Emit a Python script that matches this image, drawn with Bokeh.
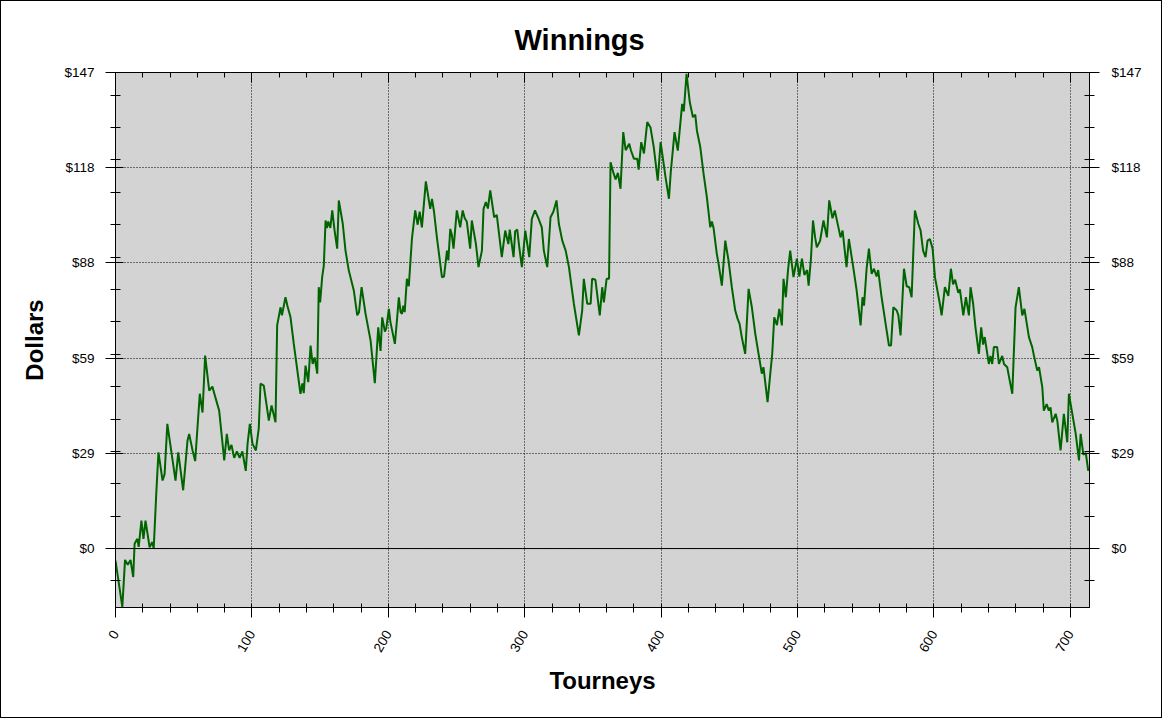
from math import pi

from bokeh.embed import file_html
from bokeh.models import FixedTicker, LinearAxis, Range1d, Span
from bokeh.plotting import figure
from bokeh.resources import INLINE

# Cumulative winnings
tourneys = [0, 5, 7, 9, 11, 13, 14, 16, 17, 19, 20.5, 22, 25, 27, 28, 30, 31.5, 34.5, 36, 38,
            44, 46, 49.6, 52.8, 54, 56.5, 58.4, 61.8, 63.8, 65.7, 68.7, 71, 73, 76, 79.7, 81.6,
            83.3, 85, 87, 89, 91, 93, 95.5, 96.8, 98.5, 100.4, 102.9, 105, 106.3, 108.7, 112.4,
            114.4, 117.3, 118.5, 121, 122, 124.6, 126, 128.3, 130.7, 135.6, 137, 138, 139.3,
            141.3, 143, 144.5, 146, 147.9, 149, 150, 151.5, 152.7, 154, 155, 156, 157.5, 158.9,
            160.6, 162.5, 163.7, 166.6, 168.6, 171, 174.7, 177.2, 178.5, 180.4, 183.3, 187,
            190.1, 192.6, 194.3, 195.5, 197.5, 198.5, 200.4, 201.5, 204.8, 206.5, 207.7, 209,
            210, 211, 212, 213.6, 215, 217.3, 219.7, 221.5, 223, 224.6, 227.5, 230.7, 232, 233.5,
            235.6, 239.3, 240.8, 243, 244, 245.4, 246.5, 247.8, 250.2, 252.7, 254.5, 256, 257.5,
            260, 261.2, 264.2, 266.1, 268.6, 269.8, 271.5, 273, 274.7, 277.6, 279.5, 283.2,
            285.7, 288, 289, 291.8, 293, 294.5, 296, 297.9, 300.4, 303.3, 305.2, 307.5, 310,
            312.5, 314, 316.5, 318.9, 321, 323.3, 325, 327.5, 330, 332.4, 336, 339.7, 342.1,
            343.3, 345.8, 348.3, 349.4, 351.8, 355, 356.8, 358, 360, 361.8, 362.9, 365, 366.6,
            368.3, 370.2, 372.2, 374, 376.6, 377.8, 380, 382.5, 383.5, 385.4, 387.4, 389.8,
            392.2, 394.6, 397.5, 399.6, 403.2, 405.7, 407, 409.8, 412.2, 415.4, 416.6, 418.6,
            421, 423.3, 425, 426.2, 428.7, 431.1, 433.5, 436, 437.2, 438.4, 440.8, 442.1, 444.5,
            447, 449.4, 451.8, 454.3, 456, 457.5, 459.1, 461.6, 464.1, 466.5, 469, 471.4, 473.8,
            475, 478, 480, 481.4, 482.9, 484.9, 486.6, 488.5, 489.7, 491.4, 493, 494.6, 497,
            499.5, 501.3, 503.2, 505, 507, 508.1, 509.8, 511.3, 512.9, 514.1, 516.5, 519, 521.5,
            523.2, 525.6, 527.3, 528.6, 531.5, 533, 535.9, 537.6, 540.8, 543.3, 546.2, 547.6,
            548.7, 550.6, 552.3, 554.3, 556, 557.9, 559.1, 561.6, 565.3, 567, 568.5, 570.2,
            572.7, 573.9, 575.5, 578, 580, 581.9, 583.6, 586, 588.5, 590.2, 592, 593.8, 595.3,
            597, 599, 600.7, 604.3, 605.6, 608, 610.5, 612.4, 614, 615.5, 617.8, 619, 621.5,
            623.4, 625.6, 626.8, 628.7, 630.4, 632.9, 634.6, 636, 637.2, 640.2, 641.4, 642.7,
            643.9, 646.3, 647.6, 650, 651.3, 653.7, 655, 657.4, 659.8, 662.2, 664.7, 666.3,
            669.6, 672, 673.3, 675.7, 677, 679.4, 680.5, 682.6, 684.2, 685.4, 686.7, 689.2,
            690.4, 692.8, 695.2, 697.7, 698.9, 701.4, 703.9, 706.3, 707.5, 709.5, 711.3, 713.1]

winnings = [-3.7, -18, -3.5, -5, -3.5, -8.8, 1.5, 3, 0.5, 8.6, 3, 8.6, 0.4, 2, 0, 18, 29.7, 21, 23, 38.5,
            21, 29.7, 18, 33.4, 35.4, 30.3, 27, 47.8, 42, 59.6, 48.8, 50, 47, 42.6, 27.2, 35.4,
            30.3, 32, 28, 30, 28, 30, 24, 32.3, 38.5, 32.4, 30.3, 37, 50.9, 50.3, 39.5,
            44.2, 39, 68.9, 74.5, 72, 77.6, 75, 71.4, 63.2, 47.8, 51, 48, 56.5,
            51.4, 62.7, 57, 59, 54, 80.7, 76, 83.8, 87.4, 101.3, 99, 101, 99, 104.4,
            98.2, 92.6, 107.5, 100.3, 92, 85.9, 79.7, 72, 73, 80.7, 72.5, 64.2,
            51.1, 68.3, 61, 71.4, 67, 68, 74, 70, 63.2, 71.4, 77.6, 73,
            72.5, 75, 73, 83.3, 81, 95.6, 104.4, 100, 104, 99.2, 113.4, 104.9, 108, 104,
            96.1, 83.8, 84, 92, 89, 98.7, 97, 92.6, 104.4, 99.2, 104.4, 102, 101,
            92.6, 101.3, 94.1, 86.9, 92, 104.9, 107, 105, 110.6, 102.3, 103, 90,
            98.2, 94, 98.5, 90, 98, 98.5, 93, 86.9, 98.2, 90, 101.8, 104.4, 102,
            99.2, 92, 86.9, 102.3, 104, 107.5, 100.3, 95.1, 92, 86.9, 75.6, 65.8, 73.5,
            83.3, 75.6, 75.6, 83.3, 83, 72, 80.7, 76, 83.3, 83.3, 119.3, 116, 114,
            116, 111.1, 128.6, 123, 125, 123, 120.4, 120.4, 117, 125.5, 122, 131.7,
            130, 123.9, 113.6, 125.5, 114.7, 108, 116, 128.6, 122.9, 137.3, 135, 146.6,
            137.8, 133.2, 134, 129.1, 123.9, 115.7, 108.5, 99.2, 101, 99, 91, 87.9, 81.2,
            95.1, 88.9, 80.7, 73.5, 71, 69.4, 65.3, 60.1, 80.2, 74.5, 66.3, 60.1, 54,
            56, 45.2, 54, 60, 71.4, 69, 74, 68.9, 83.3, 77.6, 86, 92, 83.8,
            89.5, 84, 89.5, 84.5, 86, 81.2, 89.5, 101.3, 96, 93, 95, 101.3, 96.1,
            107.5, 102, 104.4, 101.8, 96.1, 98.2, 86.9, 95.6, 86.9, 79.7, 68.9, 77.6,
            75, 86.4, 92.6, 84.8, 86.4, 84, 86, 77.6, 67.3, 62.7, 62.7, 74.5,
            73.5, 72, 65.8, 86.4, 81, 80.7, 77.6, 104.4, 100.3, 98.2, 92, 90, 95.1,
            95.6, 92.6, 83.8, 75.6, 72, 80.7, 78, 86.4, 81.6, 83, 79, 80, 72,
            77.6, 72, 80.7, 75.6, 68.3, 60.1, 68.3, 63, 65.3, 57, 59.5, 57,
            62.2, 62.2, 57, 59.5, 57, 56, 53, 47.8, 74.5, 80.7, 72, 74,
            65.3, 62.2, 59.5, 55, 56, 49.8, 42.6, 44.6, 42.6, 43.6, 39, 41.6,
            39.5, 30.3, 41.6, 32.8, 47.8, 41.6, 35.4, 27.2, 35.4, 29, 29.5, 24]

x_major = [0, 100, 200, 300, 400, 500, 600, 700]
x_minor = list(range(0, 714, 20))
y_major = [0, 29.4, 58.8, 88.2, 117.6, 147]
y_labels = ["$0", "$29", "$59", "$88", "$118", "$147"]
y_minor = list(range(-10, 147, 10))

FONT = "Liberation Sans"

p = figure(frame_width=974, frame_height=535,
           x_range=Range1d(0, 714), y_range=Range1d(-18.2, 147),
           title="Winnings", x_axis_label="Tourneys", y_axis_label="Dollars",
           background_fill_color="#d3d3d3", border_fill_color="white",
           min_border_left=114, min_border_right=72, min_border_top=71, min_border_bottom=110,
           output_backend="svg", toolbar_location=None)
# thin frame around the whole chart, as in the original image
p.styles = {"border": "1px solid black"}

p.outline_line_color = "black"
p.outline_line_alpha = 1.0

# title is centred on the whole image, not on the plot area
p.title.text_font = FONT
p.title.text_font_size = "29px"
p.title.text_font_style = "bold"
p.title.text_color = "black"
p.title.align = "left"
p.title.offset = 399
p.title.standoff = 33

xt = FixedTicker(ticks=x_major, minor_ticks=x_minor)
yt = FixedTicker(ticks=y_major, minor_ticks=y_minor)
y_overrides = dict(zip(y_major, y_labels))

# bottom axis
xa = p.xaxis[0]
xa.ticker = xt
xa.major_label_orientation = pi / 3
xa.major_tick_in = 0
xa.major_tick_out = 10
xa.minor_tick_in = 4
xa.minor_tick_out = 5
xa.major_label_standoff = 14
xa.axis_label_standoff = 8

# left axis
ya = p.yaxis[0]
ya.ticker = yt
ya.major_label_overrides = y_overrides
ya.major_tick_in = 8
ya.major_tick_out = 10
ya.minor_tick_in = 5
ya.minor_tick_out = 5
ya.major_label_standoff = 11
ya.axis_label_standoff = 13

# top axis: tick marks only, longer ones at the hundreds
top = LinearAxis(ticker=FixedTicker(ticks=[], minor_ticks=x_minor),
                 minor_tick_in=5, minor_tick_out=0, major_label_standoff=0)
p.add_layout(top, "above")
top100 = LinearAxis(ticker=FixedTicker(ticks=[], minor_ticks=x_major),
                    minor_tick_in=10, minor_tick_out=0, major_label_standoff=0)
p.add_layout(top100, "above")
right = LinearAxis(ticker=yt, major_label_overrides=y_overrides, major_label_standoff=12,
                   major_tick_in=8, major_tick_out=10, minor_tick_in=5, minor_tick_out=5)
p.add_layout(right, "right")

for ax in p.axis:
    ax.axis_line_color = "black"
    ax.major_tick_line_color = "black"
    ax.minor_tick_line_color = "black"
    ax.major_label_text_color = "black"
    ax.major_label_text_font = FONT
    ax.major_label_text_font_size = "13.5px"
    ax.axis_label_text_font = FONT
    ax.axis_label_text_font_style = "bold"
    ax.axis_label_text_font_size = "24px"
    ax.axis_label_text_color = "black"

# dotted grid on the major ticks
p.xgrid.ticker = xt
p.ygrid.ticker = yt
for g in (p.xgrid, p.ygrid):
    g.grid_line_color = "black"
    g.grid_line_dash = "1 2"
    g.grid_line_alpha = 1.0

p.add_layout(Span(location=0, dimension="width", line_color="black", line_width=1))

p.line(tourneys, winnings, line_color="#006400", line_width=2)

open("out.html", "w").write(file_html(p, INLINE))
